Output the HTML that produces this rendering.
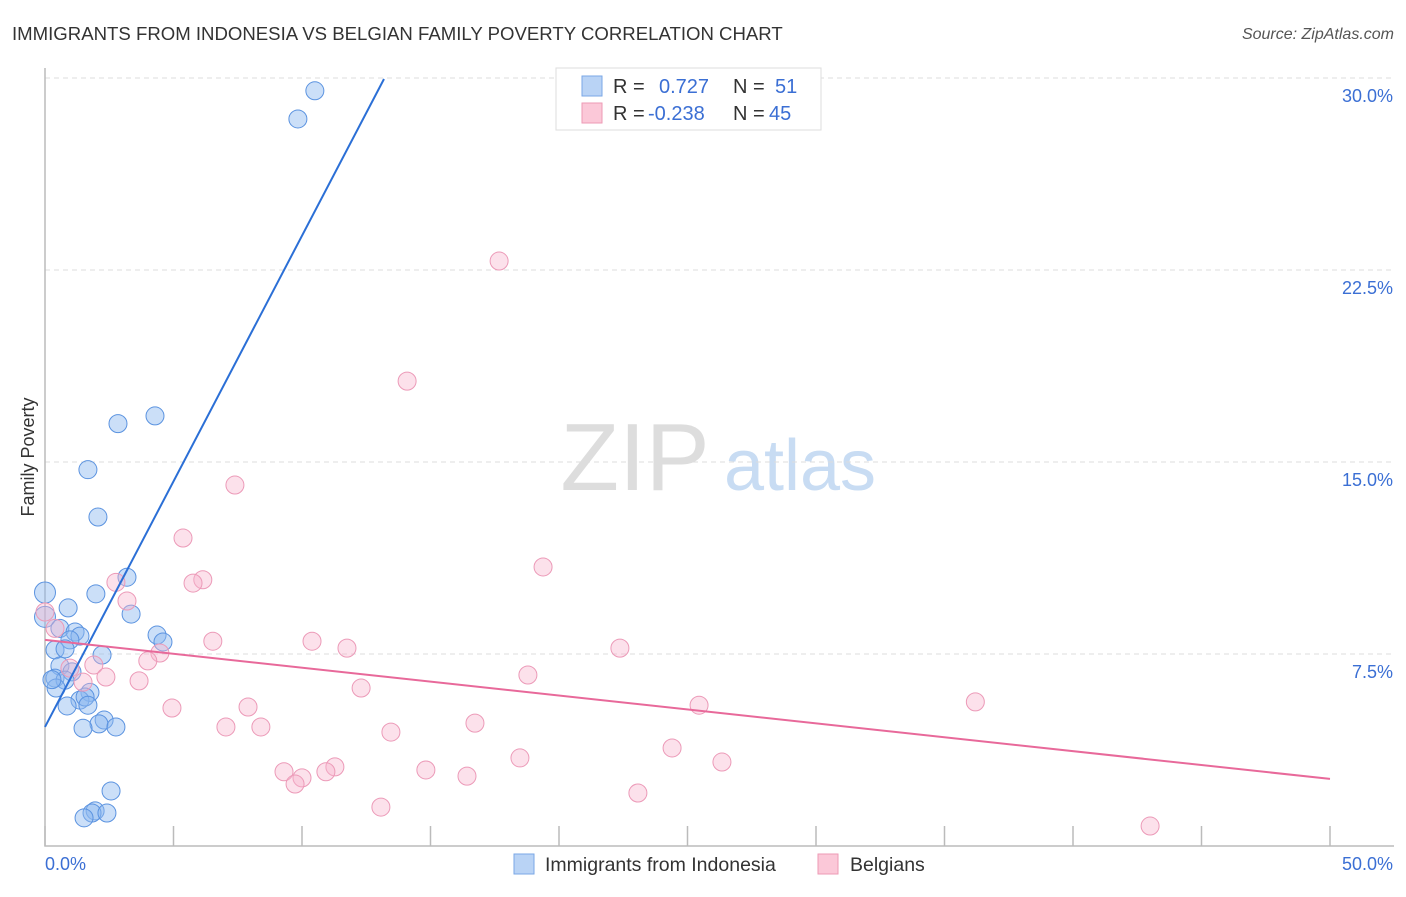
<!DOCTYPE html>
<html><head><meta charset="utf-8"><style>
body{margin:0;background:#fff;font-family:"Liberation Sans",sans-serif}
text{font-family:"Liberation Sans",sans-serif}
</style></head><body>
<svg id="chart" width="1406" height="892" xmlns="http://www.w3.org/2000/svg">
<text x="12" y="40" font-size="18.6" fill="#333">IMMIGRANTS FROM INDONESIA VS BELGIAN FAMILY POVERTY CORRELATION CHART</text>
<text x="1394" y="39" font-size="16" fill="#555" text-anchor="end" font-style="italic">Source: ZipAtlas.com</text>
<g>
<text x="635" y="490" font-size="96" fill="#ddd" font-family="Liberation Serif" text-anchor="middle">ZIP</text>
<text x="800" y="490" font-size="72" fill="#c8dcf3" text-anchor="middle">atlas</text>
</g>
<g id="grid"></g>
<g id="axes"></g>
<text transform="translate(34,457) rotate(-90)" font-size="18" fill="#333" text-anchor="middle">Family Poverty</text>
<g id="marks"></g>
<g>
<rect x="556" y="68" width="265" height="62" fill="#fff" stroke="#ddd"/>
<rect x="582" y="76" width="20" height="20" fill="#b9d3f5" stroke="#7aa7e6"/>
<rect x="582" y="103" width="20" height="20" fill="#fbc8d8" stroke="#ee9ab5"/>
<text x="613" y="93" font-size="20" fill="#333">R = </text><text x="659" y="93" font-size="20" fill="#3b6fd4">0.727</text>
<text x="733" y="93" font-size="20" fill="#333">N = </text><text x="775" y="93" font-size="20" fill="#3b6fd4">51</text>
<text x="613" y="120" font-size="20" fill="#333">R = </text><text x="648" y="120" font-size="20" fill="#3b6fd4">-0.238</text>
<text x="733" y="120" font-size="20" fill="#333">N = </text><text x="769" y="120" font-size="20" fill="#3b6fd4">45</text>
</g>
<g>
<rect x="514" y="854" width="20" height="20" fill="#b9d3f5" stroke="#7aa7e6"/>
<text x="545" y="871" font-size="19.5" fill="#333">Immigrants from Indonesia</text>
<rect x="818" y="854" width="20" height="20" fill="#fbc8d8" stroke="#ee9ab5"/>
<text x="850" y="871" font-size="19.5" fill="#333">Belgians</text>
</g>
</svg>
<script>
const blueX=[10.5,9.84,4.28,2.84,1.67,2.06,3.19,0,1.98,0.9,3.35,0,0.58,1.17,1.36,4.36,4.59,0.97,0.39,0.78,2.22,0.58,1.05,0.39,0.78,0.43,1.75,1.36,1.56,1.67,0.86,2.3,2.1,2.76,1.48,2.57,1.95,1.83,2.41,1.52,0.27];
const blueY=[29.5,28.4,16.8,16.5,14.7,12.85,10.5,9.9,9.85,9.3,9.06,8.95,8.5,8.36,8.2,8.24,7.97,8.05,7.66,7.7,7.46,7.03,6.8,6.56,6.48,6.17,6.0,5.7,5.82,5.5,5.47,4.92,4.77,4.65,4.6,2.15,1.37,1.29,1.29,1.1,6.5];
const pinkX=[17.67,14.09,7.39,5.37,19.38,6.14,5.76,2.76,3.19,0,0.39,6.53,10.39,11.75,22.37,4.47,4.0,1.9,0.97,18.79,2.37,3.66,1.48,12.3,36.2,25.45,4.94,7.9,16.73,7.04,8.4,13.46,24.4,18.48,26.34,11.28,9.3,10.93,14.82,16.42,10.0,9.73,23.07,13.07,43.0];
const pinkY=[22.85,18.16,14.1,12.03,10.9,10.4,10.27,10.3,9.57,9.14,8.5,8.0,8.0,7.73,7.73,7.54,7.23,7.07,6.95,6.68,6.6,6.45,6.4,6.17,5.63,5.5,5.39,5.43,4.8,4.65,4.65,4.45,3.83,3.44,3.28,3.09,2.9,2.9,2.97,2.73,2.66,2.42,2.07,1.52,0.78];
const blueTrend=[[0,4.65],[13.19,29.96]];
const pinkTrend=[[0,8.05],[50,2.62]];
const yTicks=[7.5,15,22.5,30];
const xTicks=[0,5,10,15,20,25,30,35,40,45,50];
const sx=v=>45+v*25.7, sy=v=>846-v*25.6;
const NS="http://www.w3.org/2000/svg";
function mk(p,t,a){const e=document.createElementNS(NS,t);for(const k in a)e.setAttribute(k,a[k]);p.appendChild(e);return e;}
const grid=document.getElementById('grid'),axes=document.getElementById('axes'),marks=document.getElementById('marks');
yTicks.forEach(v=>{
 const l=mk(grid,'line',{x1:45,x2:1394,y1:sy(v),y2:sy(v),stroke:'#ddd','stroke-dasharray':'5,4'});
 
 
 const t=mk(axes,'text',{x:1393,y:sy(v)+24,'font-size':18,fill:'#3b6fd4','text-anchor':'end'});
 t.textContent=v.toFixed(1)+'%';
 
 
});
const ax=mk(axes,'path',{d:'M45,68V846H1394',fill:'none',stroke:'#bbb','stroke-width':1.5});


xTicks.forEach(v=>{
 const l=mk(axes,'line',{x1:sx(v),x2:sx(v),y1:826,y2:846,stroke:'#bbb','stroke-width':1.5});
 
 
});
[[0,'0.0%','start',45],[50,'50.0%','end',1393]].forEach(d=>{
 const t=mk(axes,'text',{x:d[3],y:870,'font-size':18,fill:'#3b6fd4','text-anchor':d[2]});
 t.textContent=d[1];
 
 
});
blueX.forEach((x,i)=>{
 const c=mk(marks,'circle',{cx:sx(x),cy:sy(blueY[i]),r:(x===0?10.5:9),fill:'rgba(140,185,240,0.45)',stroke:'#5b93e0','stroke-width':1});
 
 
});
pinkX.forEach((x,i)=>{
 const c=mk(marks,'circle',{cx:sx(x),cy:sy(pinkY[i]),r:9,fill:'rgba(248,180,205,0.4)',stroke:'#ec9ab8','stroke-width':1});
 
 
});
const bl=mk(marks,'line',{x1:sx(blueTrend[0][0]),y1:sy(blueTrend[0][1]),x2:sx(blueTrend[1][0]),y2:sy(blueTrend[1][1]),stroke:'#2b6fd6','stroke-width':2});


const pl=mk(marks,'line',{x1:sx(pinkTrend[0][0]),y1:sy(pinkTrend[0][1]),x2:sx(pinkTrend[1][0]),y2:sy(pinkTrend[1][1]),stroke:'#e8699a','stroke-width':2});


</script>
</body></html>
